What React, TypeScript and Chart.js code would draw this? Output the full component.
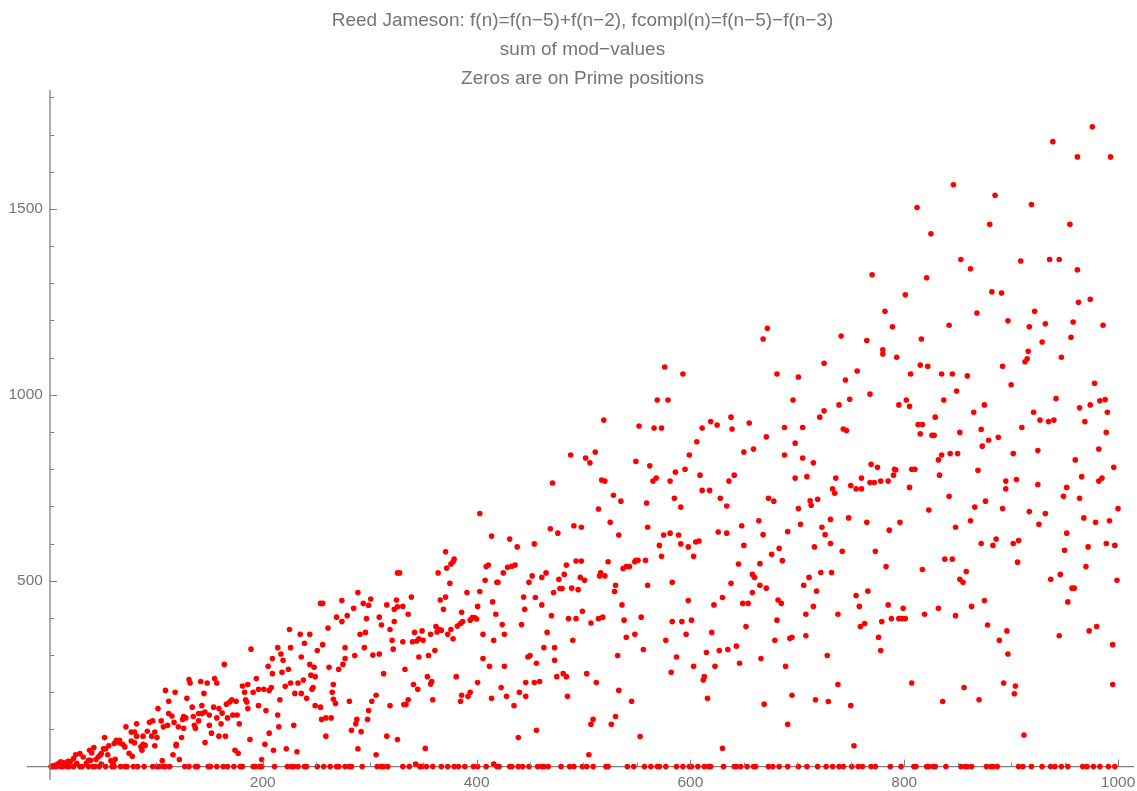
import React, { useEffect, useRef } from "react";
import { Chart, registerables } from "chart.js";

Chart.register(...registerables);

const titleLines = [
  "Reed Jameson: f(n)=f(n−5)+f(n−2), fcompl(n)=f(n−5)−f(n−3)",
  "sum of mod−values",
  "Zeros are on Prime positions",
];

const xMajorTicks = [200, 400, 600, 800, 1000];
const xMinorTicks = [50, 100, 150, 250, 300, 350, 450, 500, 550, 650, 700, 750, 850, 900, 950];
const yMajorTicks = [500, 1000, 1500];
const yMinorTicks = [100, 200, 300, 400, 600, 700, 800, 900, 1100, 1200, 1300, 1400, 1600, 1700, 1800];

const primePositions = [2,3,5,7,11,13,17,19,23,29,31,37,41,43,47,53,59,61,67,71,73,79,83,89,97,101,103,107,109,113,127,131,137,139,149,151,157,163,167,173,179,181,191,193,197,199,211,223,227,229,233,239,241,251,257,263,269,271,277,281,283,293,307,311,313,317,331,337,347,349,353,359,367,373,379,383,389,397,401,409,419,421,431,433,439,443,449,457,461,463,467,479,487,491,499,503,509,521,523,541,547,557,563,569,571,577,587,593,599,601,607,613,617,619,631,641,643,647,653,659,661,673,677,683,691,701,709,719,727,733,739,743,751,757,761,769,773,787,797,809,811,821,823,827,829,839,853,857,859,863,877,881,883,887,907,911,919,929,937,941,947,953,967,971,977,983,991,997];

const pointsLeft: number[][] = [
[326,521],[289,468],[301,451],[274,447],[294,439],[299,434],[254,439],[256,439],[316,435],[325,448],[326,430],[323,423],[285,426],[279,406],[269,402],[274,390],[297,398],[309,402],[311,381],[323,390],[261,373],[225,369],[235,356],[244,356],[291,356],[296,361],[319,369],[239,332],[256,328],[321,340],[189,316],[214,320],[226,320],[251,312],[277,320],[295,320],[322,316],[217,303],[286,299],[303,300],[309,303],[209,291],[236,295],[219,286],[277,291],[164,275],[205,270],[244,275],[248,267],[275,275],[262,267],[224,262],[271,262],[209,250],[218,254],[245,246],[249,242],[313,250],[194,237],[238,233],[233,225],[226,225],[131,234],[132,225],[142,229],[148,225],[155,237],[157,225],[181,217],[186,221],[221,216],[266,221],[247,213],[246,208],[208,213],[206,205],[196,208],[201,208],[109,205],[118,200],[183,200],[191,200],[230,197],[236,197],[265,200],[145,197],[241,184],[129,184],[216,180],[171,180],[169,174],[175,176],[166,168],[184,180],[185,174],[266,181],[268,170],[112,176],[281,176],[306,192],[302,176],[186,156],[143,164],[154,160],[196,164],[249,164],[254,160],[319,164],[134,160],[102,156],[159,156],[203,151],[299,151],[162,144],[112,143],[115,136],[140,143],[143,143],[146,147],[150,139],[172,139],[176,139],[135,135],[214,139],[126,135],[128,131],[125,127],[157,131],[167,131],[97,123],[94,119],[105,123],[117,119],[255,127],[259,131],[264,131],[298,127],[288,127],[287,115],[140,123],[82,115],[161,115],[178,115],[107,107],[111,111],[121,107],[136,111],[137,103],[150,111],[229,111],[215,107],[72,107],[126,103],[92,95],[77,93],[80,93],[99,93],[283,98],[292,94],[152,90],[206,90],[82,82],[88,82],[96,82],[101,78],[124,78],[159,82],[165,82],[259,82],[316,82],[52,78],[188,73],[63,71],[66,71],[61,62],[66,64],[69,60],[71,53],[77,69],[80,64],[88,60],[90,57],[86,53],[87,44],[99,56],[119,60],[119,56],[146,65],[202,60],[42,51],[38,44],[40,37],[56,56],[51,48],[53,48],[49,35],[55,32],[62,20],[58,16],[75,36],[78,28],[116,32],[174,44],[177,36],[210,44],[222,48],[232,40],[289,48],[306,32],[122,19],[106,16],[199,19],[29,35],[25,32],[23,22],[32,26],[37,17],[39,17],[46,26],[48,31],[44,19],[26,9],[20,13],[11,13],[15,7],[6,4],[49,7],[60,9],[35,9],[326,73],[9,8],[14,10],[18,14],[4,2],
];

const pointsMiddleHigh: number[][] = [
[576,1075],[593,1056],[569,986],[579,986],[519,932],[552,916],[566,911],[573,911],[638,940],[619,928],[625,919],[611,911],[639,908],[655,924],[606,874],[511,846],[488,838],[502,830],[506,817],[599,838],[650,846],[549,821],[562,809],[586,792],[595,800],[609,784],[641,784],[568,776],[565,768],[581,768],[636,768],[517,771],[520,768],[471,763],[611,743],[618,743],[528,730],[535,714],[585,722],[628,722],[559,709],[591,698],[634,701],[514,693],[403,681],[525,657],[648,648],[491,648],[498,644],[469,640],[476,628],[560,644],[626,631],[634,628],[533,623],[575,623],[581,628],[589,623],[414,620],[431,612],[438,591],[454,599],[608,607],[605,604],[591,599],[571,595],[650,595],[598,591],[371,578],[573,566],[603,566],[379,558],
];

const pointsMiddleLow: number[][] = [
[549,555],[551,555],[558,555],[493,553],[498,553],[523,551],[378,551],[376,545],[372,534],[364,521],[328,521],[411,542],[409,538],[436,542],[433,539],[429,536],[425,521],[484,542],[645,545],[452,513],[465,521],[461,509],[482,517],[449,496],[408,501],[419,496],[420,496],[477,504],[497,509],[501,501],[516,521],[515,513],[520,513],[537,533],[540,538],[543,538],[548,551],[375,493],[583,496],[638,493],[530,488],[560,488],[489,480],[478,479],[480,479],[495,476],[529,471],[472,468],[403,471],[391,468],[339,456],[371,456],[366,448],[444,456],[455,455],[630,455],[415,443],[598,447],[461,435],[536,435],[622,435],[649,439],[654,439],[401,431],[331,431],[369,423],[445,423],[499,418],[386,415],[336,410],[418,410],[470,406],[518,402],[514,398],[554,402],[398,401],[396,401],[394,394],[400,397],[486,398],[493,398],[538,394],[583,390],[592,390],[601,394],[387,390],[385,385],[382,378],[507,386],[442,382],[424,382],[362,377],[652,377],[376,369],[365,369],[363,362],[367,367],[349,365],[342,361],[466,361],[620,361],[596,356],[373,356],[357,356],[406,356],[426,356],[548,356],[540,348],[378,344],[346,344],[350,340],[344,338],[340,336],[331,336],[416,340],[490,340],[577,340],[463,320],[473,320],[556,315],[643,324],[635,315],[627,312],[615,307],[361,312],[355,299],[346,295],[450,299],[448,295],[532,299],[406,291],[473,286],[587,295],[456,278],[646,278],[412,270],[426,270],[603,270],[623,270],[333,262],[582,254],[503,250],[481,250],[484,242],[475,242],[354,242],[381,242],[613,242],[612,233],[358,229],[357,222],[401,226],[446,226],[454,226],[459,229],[512,226],[341,221],[345,208],[423,213],[533,205],[394,200],[440,200],[386,192],[392,189],[428,189],[446,189],[414,184],[485,189],[616,184],[359,180],[336,180],[385,176],[545,176],[334,167],[332,167],[435,164],[530,135],[509,127],[507,114],[526,114],[456,98],[439,78],[553,81],[352,49],[630,49],[505,32],[343,7],[416,7],
];

const pointsRightHigh: number[][] = [
[976,1721],[939,1681],[962,1640],[993,1640],[846,1565],[885,1537],[812,1504],[919,1512],[880,1459],[955,1459],[825,1433],[853,1364],[862,1339],[909,1360],[936,1364],[945,1364],[962,1336],[770,1323],[821,1315],[801,1269],[882,1277],[891,1274],[963,1249],[974,1257],[782,1225],[922,1225],[868,1220],[842,1187],[897,1199],[958,1196],[917,1183],[932,1191],[986,1187],[672,1179],[668,1150],[789,1183],[741,1158],[765,1146],[816,1150],[956,1155],[929,1142],[780,1121],[780,1110],[916,1117],[793,1101],[915,1097],[913,1089],[947,1101],[725,1085],[815,1080],[822,1077],[892,1077],[681,1056],[701,1048],[745,1040],[756,1064],[806,1056],[835,1056],[845,1056],[859,1051],[900,1027],[978,1031],[849,1010],[768,1002],[942,990],[988,987],[983,984],[696,986],[749,988],[802,986],[837,986],
];

const pointsRightLow: number[][] = [
[739,973],[795,973],[805,969],[875,973],[974,973],[964,965],[725,957],[721,940],[865,953],[921,953],[990,953],[927,932],[935,928],[940,932],[969,928],[829,940],[813,920],[817,920],[688,912],[705,912],[872,907],[743,908],[746,904],[910,912],[671,887],[815,895],[826,891],[828,891],[852,899],[989,899],[888,886],[879,878],[873,862],[698,870],[659,854],[688,838],[843,842],[850,842],[835,838],[832,825],[902,842],[925,850],[982,854],[705,830],[715,817],[960,825],[769,813],[775,805],[791,800],[792,798],[807,800],[810,800],[869,797],[996,805],[790,784],[833,784],[698,776],[709,780],[736,776],[760,776],[966,780],[785,768],[778,768],[772,764],[768,764],[750,756],[755,747],[760,747],[895,768],[905,772],[925,759],[985,776],[982,768],[733,747],[735,735],[805,751],[895,747],[952,751],[949,727],[842,727],[964,722],[673,722],[678,714],[712,715],[719,719],[713,703],[876,714],[701,694],[823,690],[866,698],[892,694],[917,686],[1000,694],[932,681],[748,669],[731,665],[664,661],[968,669],[862,661],[992,661],[765,657],[796,657],[703,652],[926,652],[979,657],[723,644],[848,644],[786,636],[691,632],[952,628],[668,624],[726,624],[886,612],[907,608],[731,600],[683,587],[716,591],[872,600],[883,595],[902,600],[950,582],[972,591],[989,600],[997,595],[742,579],[773,579],[676,571],[686,554],[665,546],[783,538],[838,558],[845,558],[906,550],[970,538],[817,530],[858,525],[722,522],[732,522],[658,517],[660,509],[711,509],[852,504],[855,496],[937,504],[946,517],[999,501],[665,488],[706,488],[671,480],[957,480],[959,480],[658,468],[718,472],[766,472],[755,460],[682,448],[685,439],[875,447],[953,443],[715,431],[758,431],[785,435],[799,426],[832,426],[863,431],[708,410],[738,410],[819,410],[848,406],[788,398],[795,398],[798,398],[801,398],[681,394],[779,390],[759,377],[763,385],[878,381],[980,377],[973,365],[896,365],[708,352],[693,345],[695,348],[679,340],[776,348],[889,340],[945,352],[995,328],[778,312],[666,291],[728,299],[897,303],[689,270],[738,221],[807,225],[893,225],[904,217],[995,221],[856,213],[695,192],[903,196],[717,180],[729,175],[836,175],[870,180],[669,168],[750,164],[691,114],[912,85],[753,56],
];

const AXIS = "#808080";
const TEXT = "#757575";
const FONT = "'Liberation Sans', Arial, sans-serif";

const tickMarks = {
  id: "tickMarks",
  afterDraw(chart: any) {
    const { ctx, scales, chartArea } = chart;
    const x0 = Math.round(scales.x.getPixelForValue(1));
    const y0 = scales.y.getPixelForValue(0);
    ctx.save();
    ctx.strokeStyle = AXIS;
    ctx.lineWidth = 1.3;
    ctx.beginPath();
    ctx.moveTo(x0, chartArea.top);
    ctx.lineTo(x0, chartArea.bottom);
    ctx.stroke();
    ctx.lineWidth = 1;
    const vert = (vals: number[], len: number) =>
      vals.forEach((v) => {
        const p = Math.round(scales.x.getPixelForValue(v)) + 0.5;
        ctx.beginPath();
        ctx.moveTo(p, y0);
        ctx.lineTo(p, y0 - len);
        ctx.stroke();
      });
    const horiz = (vals: number[], len: number) =>
      vals.forEach((v) => {
        const p = Math.round(scales.y.getPixelForValue(v)) + 0.5;
        ctx.beginPath();
        ctx.moveTo(x0, p);
        ctx.lineTo(x0 + len, p);
        ctx.stroke();
      });
    vert(xMajorTicks, 7);
    vert(xMinorTicks, 4);
    horiz(yMajorTicks, 7);
    horiz(yMinorTicks, 4);
    ctx.restore();
  },
};

export default function App() {
  const ref = useRef<HTMLCanvasElement>(null);
  useEffect(() => {
    const zeros = primePositions.map((n) => ({ x: n, y: 0 }));
    const others = [pointsLeft, pointsMiddleHigh, pointsMiddleLow, pointsRightHigh, pointsRightLow]
      .flat()
      .map(([x, y]) => ({ x, y }));
    const chart = new Chart(ref.current as HTMLCanvasElement, {
      type: "scatter",
      data: {
        datasets: [
          {
            label: "sum of mod-values",
            data: [...zeros, ...others],
            backgroundColor: "#ff0000",
            borderWidth: 0,
            pointRadius: 2.8,
          },
        ],
      },
      plugins: [tickMarks],
      options: {
        animation: false,
        responsive: false,
        layout: { padding: { left: 28, right: 0, top: 0, bottom: 11 } },
        plugins: {
          legend: { display: false },
          tooltip: { enabled: false },
          title: {
            display: true,
            text: titleLines,
            color: TEXT,
            font: { family: FONT, size: 19, weight: "normal", lineHeight: 1.526 },
            padding: { top: 6, bottom: -3 },
          },
        },
        scales: {
          x: {
            type: "linear",
            min: -19.6,
            max: 1014,
            position: { y: 0 } as any,
            afterFit: (s: any) => { s.height = 0; s.paddingLeft = 0; s.paddingRight = 0; },
            afterBuildTicks: (s: any) => { s.ticks = xMajorTicks.map((value) => ({ value })); },
            border: { display: true, color: AXIS, width: 1.3 },
            grid: { display: false, tickLength: 0, drawTicks: false },
            ticks: {
              color: TEXT,
              font: { family: FONT, size: 15.5 },
              padding: 7,
              maxRotation: 0,
              autoSkip: false,
              callback: (v: any) => String(v),
            },
          },
          y: {
            type: "linear",
            min: -36,
            max: 1820,
            position: { x: -5.6 } as any,
            afterFit: (s: any) => { s.width = 0; s.paddingTop = 0; s.paddingBottom = 0; },
            afterBuildTicks: (s: any) => { s.ticks = yMajorTicks.map((value) => ({ value })); },
            border: { display: false },
            grid: { display: false, drawTicks: false },
            ticks: {
              color: TEXT,
              font: { family: FONT, size: 15.5 },
              autoSkip: false,
              callback: (v: any) => String(v),
            },
          },
        },
      },
    } as any);
    return () => chart.destroy();
  }, []);
  return (
    <div style={{ position: "fixed", left: 0, top: 0, width: 1137, height: 791, background: "#fff" }}>
      <canvas ref={ref} width={1137} height={791} style={{ display: "block" }} />
    </div>
  );
}
